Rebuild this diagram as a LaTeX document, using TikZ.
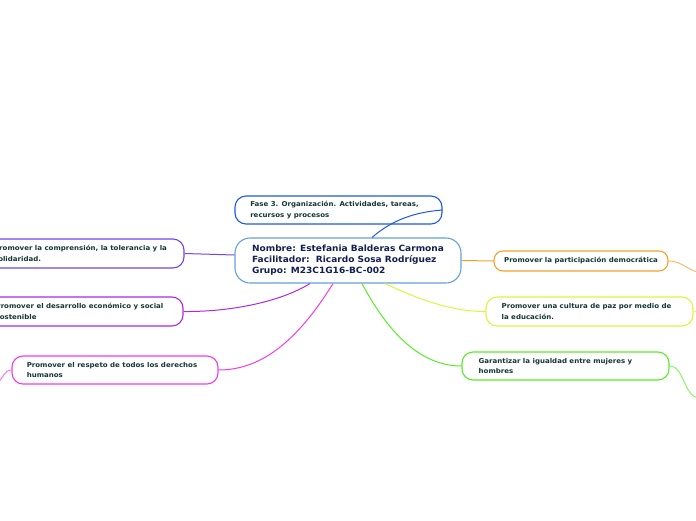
\documentclass[tikz,border=0pt]{standalone}
\usepackage{fontspec}
\setmainfont{DejaVu Sans}[FakeStretch=1.05]
\usetikzlibrary{calc}
\definecolor{cblue}{RGB}{100,160,220}
\definecolor{fblue}{RGB}{30,90,230}
\definecolor{cviol}{RGB}{110,70,240}
\definecolor{cpurp}{RGB}{170,40,230}
\definecolor{cmag}{RGB}{240,60,230}
\definecolor{corg}{RGB}{245,160,40}
\definecolor{cyel}{RGB}{220,245,60}
\definecolor{cgrn}{RGB}{90,235,40}
\definecolor{tchild}{RGB}{20,55,50}
\definecolor{tmain}{RGB}{20,30,80}
\newcommand{\padr}[1]{\hspace{#1}\mbox{}}
\tikzset{
  box/.style={draw, rounded corners=11pt, line width=1.1pt, fill=white, inner sep=0pt,
    font=\fontsize{6.7}{10.5}\bfseries\selectfont, text=tchild, align=left, anchor=center},
  mainbox/.style={box, rounded corners=15pt, font=\fontsize{8.6}{11}\bfseries\selectfont, text=tmain},
  link/.style={line width=1pt},
}
\begin{document}
\begin{tikzpicture}[x=1pt,y=-1pt]
\useasboundingbox (0,0) rectangle (696,520);
\node[mainbox, draw=cblue, minimum width=226pt, minimum height=45pt] (c) at (348,260.5)
 {Nombre: Estefania Balderas Carmona\\Facilitador:\ \ Ricardo Sosa Rodríguez\\Grupo: M23C1G16-BC-002};
\node[box, draw=fblue, minimum width=207pt, minimum height=28pt] (f) at (338.5,210)
 {Fase 3. Organización. Actividades, tareas,\padr{8pt}\\recursos y procesos};
\node[box, draw=cviol, minimum width=207pt, minimum height=29pt] (comp) at (80.5,253.5)
 {Promover la comprensión, la tolerancia y la\\solidaridad.};
\node[box, draw=cpurp, minimum width=207pt, minimum height=29pt] (des) at (79.5,311.5)
 {Promover el desarrollo económico y social\\sostenible};
\node[box, draw=cmag, minimum width=206pt, minimum height=28pt] (res) at (115,370)
 {Promover el respeto de todos los derechos\padr{6pt}\\humanos};
\node[box, draw=corg, rounded corners=9pt, minimum width=174pt, minimum height=20pt] (par) at (581,261)
 {Promover la participación democrática};
\node[box, draw=cyel, minimum width=207pt, minimum height=29pt] (paz) at (589.5,311.5)
 {Promover una cultura de paz por medio de\padr{6pt}\\la educación.};
\node[box, draw=cgrn, minimum width=207pt, minimum height=28pt] (igu) at (565.5,366)
 {Garantizar la igualdad entre mujeres y\padr{20pt}\\hombres};
\coordinate (partail) at (706,273);
\coordinate (igutail) at (698,398);
\coordinate (restail) at (-4,384);
\coordinate (paztail) at (700,311.5);
\draw[link, fblue] ($(c.north)+(24,0)$) .. controls (392,220) and (415,212) .. (f.east);
\draw[link, cviol] ($(c.west)+(0,-5.5)$) -- (comp.east);
\draw[link, cpurp] ($(c.south)+(-38,0)$) .. controls (280,302) and (230,312) .. (des.east);
\draw[link, cmag] ($(c.south)+(-15,0)$) .. controls (298,340) and (262,370) .. (res.east);
\draw[link, cgrn] ($(c.south)+(14,0)$) .. controls (392,340) and (425,366) .. (igu.west);
\draw[link, cyel] ($(c.south)+(37,0)$) .. controls (420,300) and (452,311.5) .. (paz.west);
\draw[link, corg] (c.east) -- (par.west);
\draw[link, corg!70] (par.east) .. controls (684,261) and (688,273) .. (partail);
\draw[link, cgrn!70] (igu.east) .. controls (684,366) and (684,396) .. (igutail);
\draw[link, cmag!70] (res.west) .. controls (4,370) and (4,378) .. (restail);
\draw[link, cyel!70] (paz.east) -- (paztail);
\end{tikzpicture}
\end{document}
